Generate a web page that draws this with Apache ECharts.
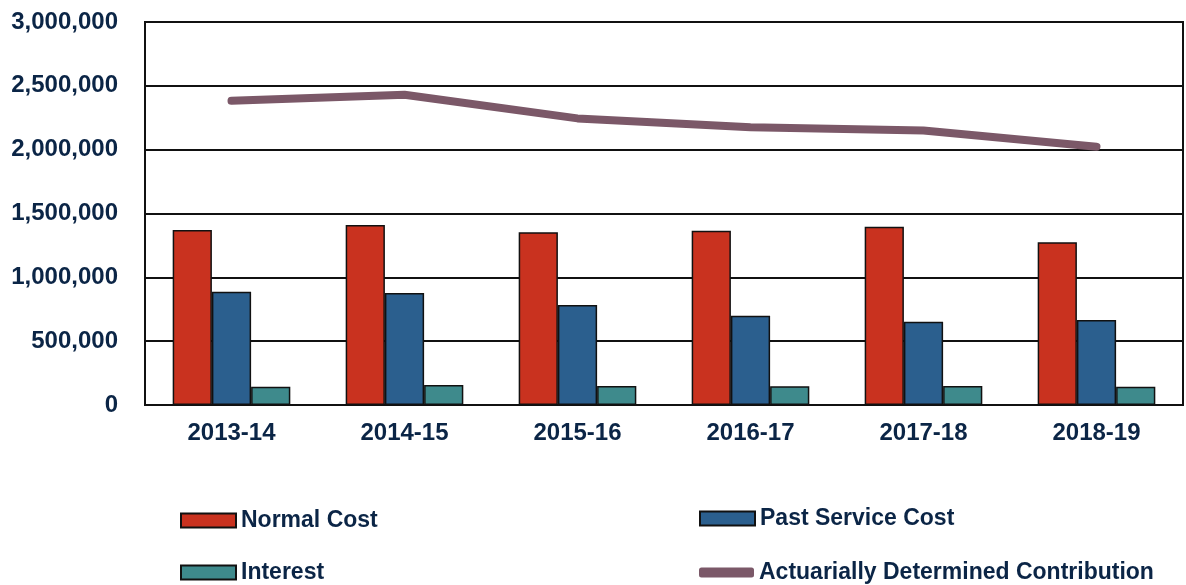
<!DOCTYPE html>
<html>
<head>
<meta charset="utf-8">
<script src="https://cdn.jsdelivr.net/npm/echarts@6/dist/echarts.min.js"></script>
<style>html,body{margin:0;padding:0;background:#fff;}#c{width:1186px;height:585px;}</style>
</head>
<body>
<div id="c"></div>
<script>
const categories = ['2013-14','2014-15','2015-16','2016-17','2017-18','2018-19'];
const normalCost = [1371000, 1410000, 1353000, 1365000, 1397000, 1274000];
const pastServiceCost = [887000, 877000, 783000, 700000, 652000, 666000];
const interest = [143000, 157000, 149000, 147000, 149000, 143000];
const adc = [2383000, 2430000, 2245000, 2175000, 2150000, 2023000];
const yTicks = [0, 500000, 1000000, 1500000, 2000000, 2500000, 3000000];

const navy = '#0b2546';
const chart = echarts.init(document.getElementById('c'));
const fmt = v => v.toLocaleString('en-US');
const legendText = {color: navy, fontSize: 23, fontWeight: 'bold', fontFamily: 'Liberation Sans, Arial, sans-serif'};
function leg(name, left, top, extra, h) {
  return {left: left, top: top, itemWidth: 55, itemHeight: h || 14, textStyle: legendText,
          data: [Object.assign({name: name, icon: 'rect'}, extra || {})]};
}
chart.setOption({
  animation: false,
  backgroundColor: '#fff',
  grid: {left: 145, right: 3, top: 22, bottom: 180, show: true, borderColor: '#111', borderWidth: 2, containLabel: false},
  xAxis: {
    type: 'category', data: categories,
    axisLine: {lineStyle: {color: '#111', width: 2}},
    axisTick: {show: false},
    axisLabel: {color: navy, fontSize: 24, fontWeight: 'bold', fontFamily: 'Liberation Sans, Arial, sans-serif', margin: 16}
  },
  yAxis: {
    type: 'value', min: yTicks[0], max: yTicks[yTicks.length-1], interval: yTicks[1]-yTicks[0],
    axisLine: {show: true, lineStyle: {color: '#111', width: 2}},
    axisTick: {show: false},
    splitLine: {lineStyle: {color: '#111', width: 2}},
    axisLabel: {color: navy, fontSize: 24, fontWeight: 'bold', fontFamily: 'Liberation Sans, Arial, sans-serif', margin: 27, formatter: fmt}
  },
  legend: [
    leg('Normal Cost', 175, 504),
    leg('Interest', 175, 556),
    leg('Past Service Cost', 694, 502),
    leg('Actuarially Determined Contribution', 694, 556, {icon: 'roundRect', itemStyle: {color: '#7b5868', borderWidth: 0}}, 10)
  ],
  series: [
    {name: 'Normal Cost', type: 'bar', data: normalCost, barGap: '0%', barCategoryGap: '32%',
     itemStyle: {color: '#c9321f', borderColor: '#111', borderWidth: 1.5}},
    {name: 'Past Service Cost', type: 'bar', data: pastServiceCost,
     itemStyle: {color: '#2b5f8e', borderColor: '#111', borderWidth: 1.5}},
    {name: 'Interest', type: 'bar', data: interest,
     itemStyle: {color: '#3e8a8c', borderColor: '#111', borderWidth: 1.5}},
    {name: 'Actuarially Determined Contribution', type: 'line', data: adc, symbol: 'none', z: 5,
     lineStyle: {color: '#7b5868', width: 8, cap: 'round', join: 'round'}, itemStyle: {color: '#7b5868'}}
  ]
});
</script>
</body>
</html>
